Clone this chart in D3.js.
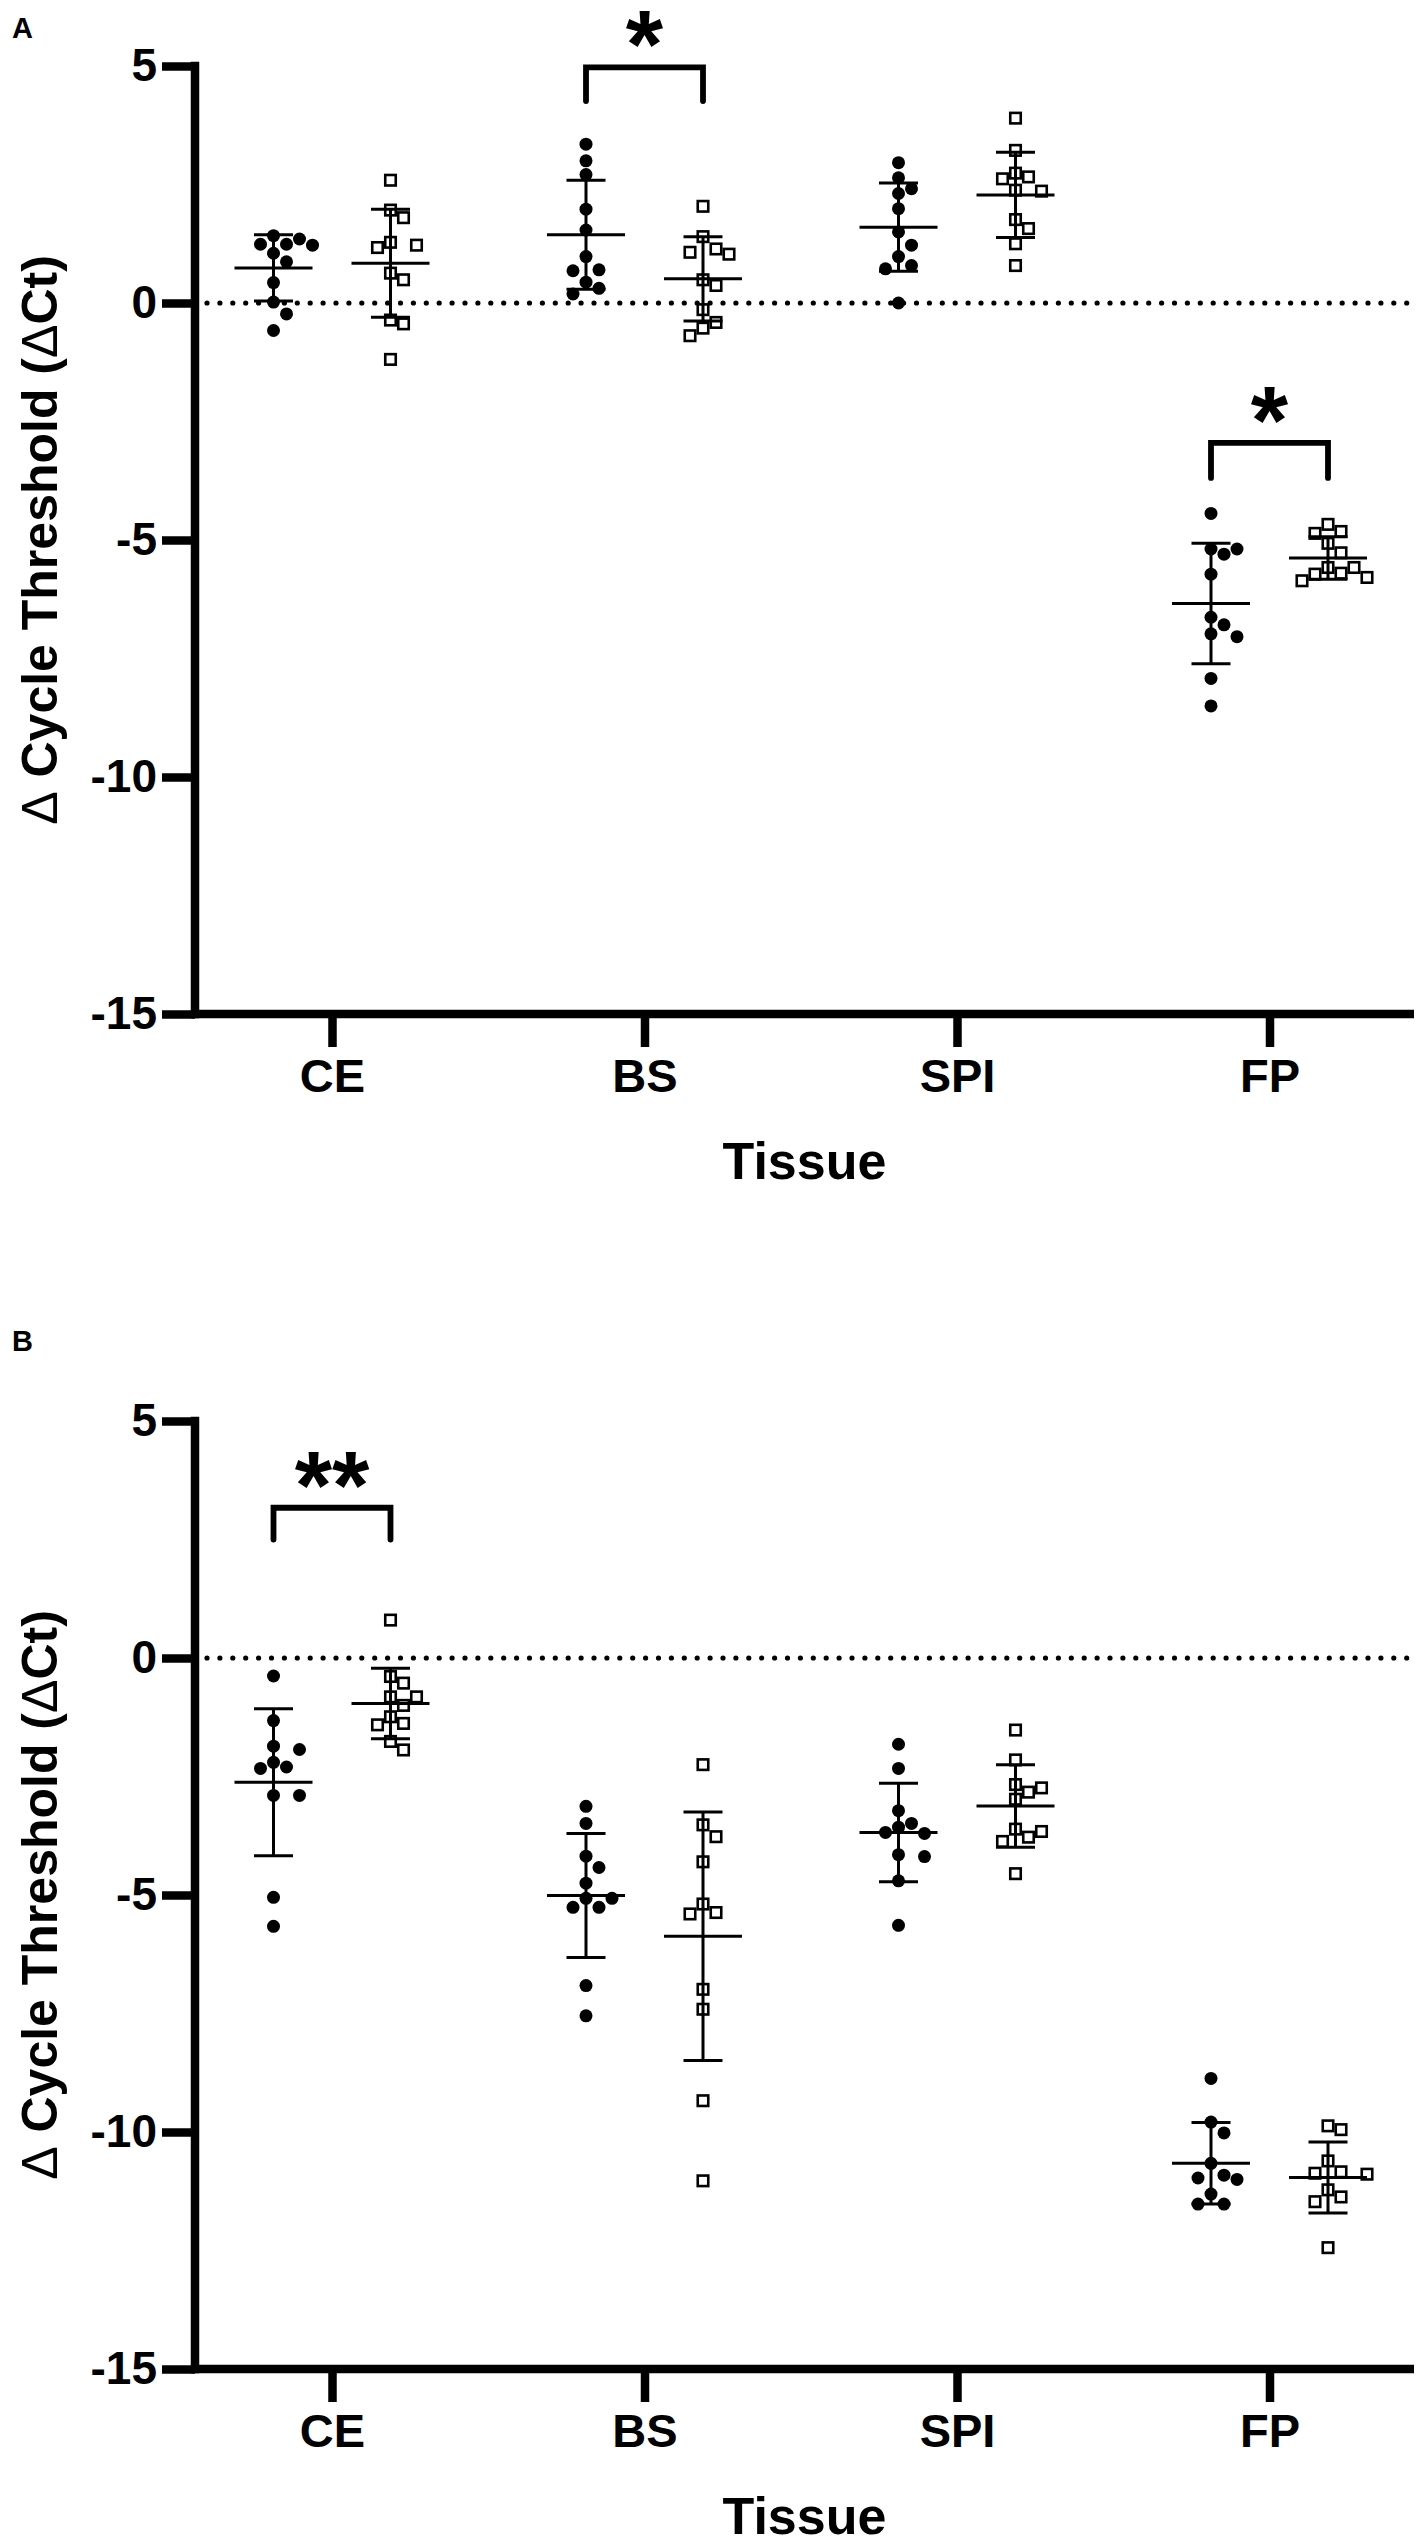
<!DOCTYPE html>
<html>
<head>
<meta charset="utf-8">
<script src="https://cdn.jsdelivr.net/npm/d3@7"></script>
<style>
  body { margin: 0; background: #fff; }
  svg { display: block; }
  text { font-family: "Liberation Sans", Arial, sans-serif; font-weight: bold; fill: #000; }
</style>
</head>
<body>
<svg id="chart" width="1417" height="2540"></svg>
<script>
// ---------------- DATA ----------------
const categories = ["CE", "BS", "SPI", "FP"];
const groups = ["filled", "open"];
const yTickValues = [5, 0, -5, -10, -15];
const yTickLabels = ["5", "0", "-5", "-10", "-15"];
const yLabel = "Cycle Threshold (";
const xLabel = "Tissue";
const panelLetters = ["A", "B"];

// Panel A – individual ΔCt values (filled circles / open squares)
const A_CE_filled  = [1.42, 1.35, 1.24, 1.24, 1.22, 1.05, 0.87, 0.43, 0.02, -0.23, -0.58];
const A_CE_open    = [2.59, 1.96, 1.80, 1.28, 1.22, 1.17, 0.63, 0.49, -0.36, -0.44, -1.19];
const A_BS_filled  = [3.35, 3.00, 2.71, 1.98, 1.54, 0.98, 0.70, 0.68, 0.44, 0.31, 0.19];
const A_BS_open    = [2.04, 1.40, 1.14, 1.07, 1.03, 0.49, 0.37, -0.14, -0.41, -0.53, -0.69];
const A_SPI_filled = [2.96, 2.64, 2.41, 2.31, 1.99, 1.50, 1.22, 0.98, 0.79, 0.72, 0.00];
const A_SPI_open   = [3.90, 3.22, 2.74, 2.66, 2.62, 2.38, 2.36, 1.76, 1.57, 1.25, 0.79];
const A_FP_filled  = [-4.44, -5.19, -5.19, -5.30, -5.72, -6.63, -6.79, -6.98, -7.04, -7.92, -8.50];
const A_FP_open    = [-4.67, -4.82, -4.86, -5.07, -5.27, -5.58, -5.58, -5.70, -5.72, -5.79, -5.86];
// Panel A – mean and SD per category
const A_mean_filled = [0.74, 1.44, 1.60, -6.34];
const A_sd_filled   = [0.70, 1.15, 0.93, 1.27];
const A_mean_open   = [0.84, 0.51, 2.28, -5.38];
const A_sd_open     = [1.14, 0.89, 0.90, 0.45];
// Panel A – significance brackets
const A_bracketCats   = ["BS", "FP"];
const A_bracketTop    = [4.97, -2.95];
const A_bracketBottom = [4.26, -3.69];
const A_bracketLabel  = ["*", "*"];

// Panel B – individual ΔCt values
const B_CE_filled  = [-0.38, -1.32, -1.86, -1.93, -2.20, -2.30, -2.33, -2.90, -2.90, -5.05, -5.66];
const B_CE_open    = [0.80, -0.39, -0.53, -0.82, -0.82, -1.00, -1.24, -1.38, -1.41, -1.76, -1.94];
const B_BS_filled  = [-3.13, -3.49, -4.18, -4.42, -4.75, -5.07, -5.07, -5.26, -5.26, -6.91, -7.55];
const B_BS_open    = [-2.25, -3.52, -3.77, -4.30, -5.19, -5.37, -5.40, -6.99, -7.41, -9.34, -11.03];
const B_SPI_filled = [-1.82, -2.33, -3.22, -3.49, -3.57, -3.68, -3.70, -4.15, -4.19, -4.70, -5.64];
const B_SPI_open   = [-1.52, -2.15, -2.67, -2.74, -2.83, -2.98, -3.61, -3.66, -3.78, -3.87, -4.55];
const B_FP_filled  = [-8.87, -9.79, -10.02, -10.66, -10.91, -10.97, -11.00, -11.31, -11.52, -11.52];
const B_FP_open    = [-9.87, -9.95, -10.61, -10.84, -10.87, -10.89, -11.22, -11.37, -11.47, -12.44];
// Panel B – mean and SD per category
const B_mean_filled = [-2.62, -5.01, -3.68, -10.66];
const B_sd_filled   = [1.55, 1.31, 1.04, 0.86];
const B_mean_open   = [-0.96, -5.87, -3.12, -10.96];
const B_sd_open     = [0.745, 2.62, 0.87, 0.75];
// Panel B – significance brackets
const B_bracketCats   = ["CE"];
const B_bracketTop    = [3.17];
const B_bracketBottom = [2.50];
const B_bracketLabel  = ["**"];

// ---------------- ASSEMBLY ----------------
const panels = [
  {
    letter: panelLetters[0], top: 66,
    values: {
      filled: [A_CE_filled, A_BS_filled, A_SPI_filled, A_FP_filled],
      open:   [A_CE_open, A_BS_open, A_SPI_open, A_FP_open]
    },
    mean: { filled: A_mean_filled, open: A_mean_open },
    sd:   { filled: A_sd_filled, open: A_sd_open },
    brackets: A_bracketCats.map((c, i) => ({ cat: c, top: A_bracketTop[i], bottom: A_bracketBottom[i], label: A_bracketLabel[i] })),
    letterY: 38
  },
  {
    letter: panelLetters[1], top: 1421,
    values: {
      filled: [B_CE_filled, B_BS_filled, B_SPI_filled, B_FP_filled],
      open:   [B_CE_open, B_BS_open, B_SPI_open, B_FP_open]
    },
    mean: { filled: B_mean_filled, open: B_mean_open },
    sd:   { filled: B_sd_filled, open: B_sd_open },
    brackets: B_bracketCats.map((c, i) => ({ cat: c, top: B_bracketTop[i], bottom: B_bracketBottom[i], label: B_bracketLabel[i] })),
    letterY: 1351
  }
];

// ---------------- LAYOUT ----------------
const svg = d3.select("#chart");
const axisX = 195, axisRight = 1414, plotH = 948;
const x = d3.scalePoint().domain(categories).range([332, 1269.5]);
const xg = d3.scalePoint().domain(groups).range([-58.5, 58.5]);

const AXIS_W = 8.5;
const R = 6.5, SQ = 10.5;

function swarm(values, y, step, minD) {
  const pts = values.map(v => ({ v, y: y(v) })).sort((a, b) => a.y - b.y);
  const placed = [];
  for (const p of pts) {
    for (let i = 0; i < 30; i++) {
      const off = i === 0 ? 0 : (i % 2 ? 1 : -1) * Math.ceil(i / 2) * step;
      if (placed.every(q => Math.hypot(q.dx - off, q.y - p.y) >= minD)) { p.dx = off; break; }
    }
    placed.push(p);
  }
  return placed;
}

panels.forEach(P => {
  const g = svg.append("g");
  const y = d3.scaleLinear().domain([-15, 5]).range([P.top + plotH, P.top]);
  const baseY = y(-15);

  // panel letter
  g.append("text").attr("x", 12).attr("y", P.letterY).attr("font-size", 29).text(P.letter);

  // zero dotted line
  g.append("line")
    .attr("x1", 207).attr("x2", axisRight)
    .attr("y1", y(0)).attr("y2", y(0))
    .attr("stroke", "#000").attr("stroke-width", 5.2)
    .attr("stroke-linecap", "round").attr("stroke-dasharray", "0 12.9");

  // Y axis
  const yAxis = d3.axisLeft(y).tickValues(yTickValues).tickSize(33).tickPadding(5).tickSizeOuter(0)
    .tickFormat((d, i) => yTickLabels[i]);
  const ya = g.append("g").attr("transform", `translate(${axisX},0)`).call(yAxis);
  ya.select(".domain").remove();
  ya.selectAll(".tick line").attr("stroke", "#000").attr("stroke-width", AXIS_W);
  ya.selectAll(".tick text").attr("font-size", 46).attr("fill", "#000");
  g.append("line").attr("x1", axisX).attr("x2", axisX).attr("y1", y(5)).attr("y2", baseY)
    .attr("stroke", "#000").attr("stroke-width", AXIS_W).attr("stroke-linecap", "square");

  // X axis
  const xAxis = d3.axisBottom(x).tickSize(33).tickPadding(12).tickSizeOuter(0);
  const xa = g.append("g").attr("transform", `translate(0,${baseY})`).call(xAxis);
  xa.select(".domain").remove();
  xa.selectAll(".tick line").attr("stroke", "#000").attr("stroke-width", AXIS_W);
  xa.selectAll(".tick text").attr("font-size", 47).attr("fill", "#000");
  g.append("line").attr("x1", axisX - AXIS_W / 2).attr("x2", axisRight).attr("y1", baseY).attr("y2", baseY)
    .attr("stroke", "#000").attr("stroke-width", AXIS_W);

  // axis titles
  const yt = g.append("text")
    .attr("transform", `translate(57,${(y(5) + baseY) / 2}) rotate(-90)`)
    .attr("text-anchor", "middle").attr("font-size", 50);
  yt.append("tspan").attr("font-weight", "normal").text("Δ");
  yt.append("tspan").text(" " + yLabel);
  yt.append("tspan").attr("font-weight", "normal").text("Δ");
  yt.append("tspan").text("Ct)");
  g.append("text").attr("x", (axisX + axisRight) / 2).attr("y", baseY + 165)
    .attr("text-anchor", "middle").attr("font-size", 52).text(xLabel);

  // points
  groups.forEach(grp => {
    categories.forEach((cat, ci) => {
      const cx = x(cat) + xg(grp);
      const pts = swarm(P.values[grp][ci], y, 13, 13.5);
      const pg = g.append("g");
      if (grp === "filled") {
        pg.selectAll("circle").data(pts).join("circle")
          .attr("cx", d => cx + d.dx).attr("cy", d => d.y).attr("r", R).attr("fill", "#000");
      } else {
        pg.selectAll("rect").data(pts).join("rect")
          .attr("x", d => cx + d.dx - SQ / 2).attr("y", d => d.y - SQ / 2)
          .attr("width", SQ).attr("height", SQ)
          .attr("fill", "#fff").attr("stroke", "#000").attr("stroke-width", 2.6);
      }
      // mean and SD
      const m = P.mean[grp][ci], s = P.sd[grp][ci];
      const eg = g.append("g").attr("stroke", "#000").attr("stroke-width", 3);
      eg.append("line").attr("x1", cx).attr("x2", cx).attr("y1", y(m + s)).attr("y2", y(m - s));
      eg.append("line").attr("x1", cx - 19.5).attr("x2", cx + 19.5).attr("y1", y(m + s)).attr("y2", y(m + s));
      eg.append("line").attr("x1", cx - 19.5).attr("x2", cx + 19.5).attr("y1", y(m - s)).attr("y2", y(m - s));
      eg.append("line").attr("x1", cx - 39).attr("x2", cx + 39).attr("y1", y(m)).attr("y2", y(m));
    });
  });

  // significance brackets
  P.brackets.forEach(b => {
    const x1 = x(b.cat) + xg("filled"), x2 = x(b.cat) + xg("open");
    const yt2 = y(b.top), yb = y(b.bottom);
    g.append("path")
      .attr("d", `M${x1},${yb}V${yt2}H${x2}V${yb}`)
      .attr("fill", "none").attr("stroke", "#000").attr("stroke-width", 5.8)
      .attr("stroke-linecap", "round").attr("stroke-linejoin", "miter");
    g.append("text").attr("x", (x1 + x2) / 2).attr("y", yt2 + 10)
      .attr("text-anchor", "middle").attr("font-size", 96).text(b.label);
  });
});
</script>
</body>
</html>
